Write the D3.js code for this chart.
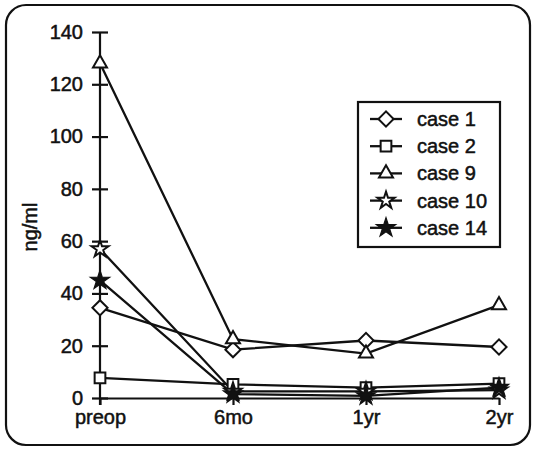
<!DOCTYPE html>
<html>
<head>
<meta charset="utf-8">
<script src="https://cdn.jsdelivr.net/npm/d3@7"></script>
<style>
  body { margin: 0; background: #fff; }
  svg text { font-family: "Liberation Sans", Arial, sans-serif; fill: #111; stroke: #111; stroke-width: 0.5px; }
</style>
</head>
<body>
<div id="chart"></div>
<script>
const WIDTH = 535, HEIGHT = 449;

// data
const timepoints = ["preop", "6mo", "1yr", "2yr"];
const yTicks = [0, 20, 40, 60, 80, 100, 120, 140];
const case1 = [34.5, 18.5, 22, 19.5];
const case2 = [7.7, 5.2, 4, 5.5];
const case9 = [128, 22.5, 17, 35.5];
const case10 = [57, 2.5, 2.5, 3];
const case14 = [45, 1.5, 0.8, 4];
const seriesNames = ["case 1", "case 2", "case 9", "case 10", "case 14"];

const series = [
    { name: seriesNames[0], values: case1, symbol: "diamond" },
    { name: seriesNames[1], values: case2, symbol: "square" },
    { name: seriesNames[2], values: case9, symbol: "triangle" },
    { name: seriesNames[3], values: case10, symbol: "star" },
    { name: seriesNames[4], values: case14, symbol: "starFilled" }
];

const svg = d3.select("#chart")
    .append("svg")
    .attr("width", WIDTH)
    .attr("height", HEIGHT);

// rounded frame
svg.append("rect")
    .attr("x", 6).attr("y", 5)
    .attr("width", 524).attr("height", 440)
    .attr("rx", 20)
    .attr("fill", "none")
    .attr("stroke", "#111")
    .attr("stroke-width", 2.2);

const x = d3.scalePoint()
    .domain(timepoints)
    .range([100, 499]);

const y = d3.scaleLinear()
    .domain([0, 140])
    .range([398, 32]);

// --- Axes ---
const yAxis = svg.append("g")
    .attr("transform", "translate(100,0)")
    .call(d3.axisLeft(y).tickValues(yTicks).tickSize(8).tickPadding(9).tickSizeOuter(0));
yAxis.select(".domain").attr("stroke-width", 2.2).attr("stroke", "#111")
    .attr("d", `M0,${y(140)}V405`);
yAxis.selectAll(".tick line").attr("x1", 8).attr("stroke-width", 2.2).attr("stroke", "#111");
yAxis.selectAll(".tick text").style("font-size", "20px");

const xAxis = svg.append("g")
    .attr("transform", "translate(0,398)")
    .call(d3.axisBottom(x).tickSize(7).tickPadding(5).tickSizeOuter(0));
xAxis.select(".domain").attr("stroke-width", 2.2).attr("stroke", "#111");
xAxis.selectAll(".tick line").attr("stroke-width", 2.2).attr("stroke", "#111");
xAxis.selectAll(".tick text").style("font-size", "20px");

// y label
svg.append("text")
    .attr("transform", "translate(37,227) rotate(-90)")
    .attr("text-anchor", "middle")
    .style("font-size", "20px")
    .text("ng/ml");

// --- Symbols ---
function drawSymbol(g, kind) {
    const stroke = "#111";
    if (kind === "diamond") {
        g.append("path").attr("d", d3.symbol(d3.symbolSquare, 115)())
            .attr("transform", "rotate(45)")
            .attr("fill", "#fff").attr("stroke", stroke).attr("stroke-width", 2);
    } else if (kind === "square") {
        g.append("path").attr("d", d3.symbol(d3.symbolSquare, 115)())
            .attr("fill", "#fff").attr("stroke", stroke).attr("stroke-width", 2);
    } else if (kind === "triangle") {
        g.append("path").attr("d", d3.symbol(d3.symbolTriangle, 85)())
            .attr("fill", "#fff").attr("stroke", stroke).attr("stroke-width", 2);
    } else if (kind === "star") {
        g.append("path").attr("d", d3.symbol(d3.symbolStar, 90)())
            .attr("fill", "#fff").attr("stroke", stroke).attr("stroke-width", 2);
    } else {
        g.append("path").attr("d", d3.symbol(d3.symbolStar, 115)())
            .attr("fill", stroke).attr("stroke", stroke).attr("stroke-width", 1.2);
    }
}

// --- Lines ---
const line = d3.line()
    .x((d, i) => x(timepoints[i]))
    .y(d => y(d));

series.forEach(s => {
    svg.append("path")
        .datum(s.values)
        .attr("fill", "none")
        .attr("stroke", "#111")
        .attr("stroke-width", 2.3)
        .attr("d", line);
});

series.forEach(s => {
    s.values.forEach((v, i) => {
        const g = svg.append("g")
            .attr("transform", `translate(${x(timepoints[i])},${y(v)})`);
        drawSymbol(g, s.symbol);
    });
});

// --- Legend ---
const legend = svg.append("g").attr("transform", "translate(358,102)");
legend.append("rect")
    .attr("width", 142).attr("height", 145)
    .attr("fill", "#fff")
    .attr("stroke", "#111")
    .attr("stroke-width", 2.2);

series.forEach((s, i) => {
    const cy = 17 + i * 27.2;
    legend.append("line")
        .attr("x1", 12).attr("x2", 44)
        .attr("y1", cy).attr("y2", cy)
        .attr("stroke", "#111").attr("stroke-width", 2.3);
    drawSymbol(legend.append("g").attr("transform", `translate(28,${cy})`), s.symbol);
    legend.append("text")
        .attr("x", 59).attr("y", cy)
        .attr("dy", "0.35em")
        .style("font-size", "20px")
        .text(s.name);
});
</script>
</body>
</html>
